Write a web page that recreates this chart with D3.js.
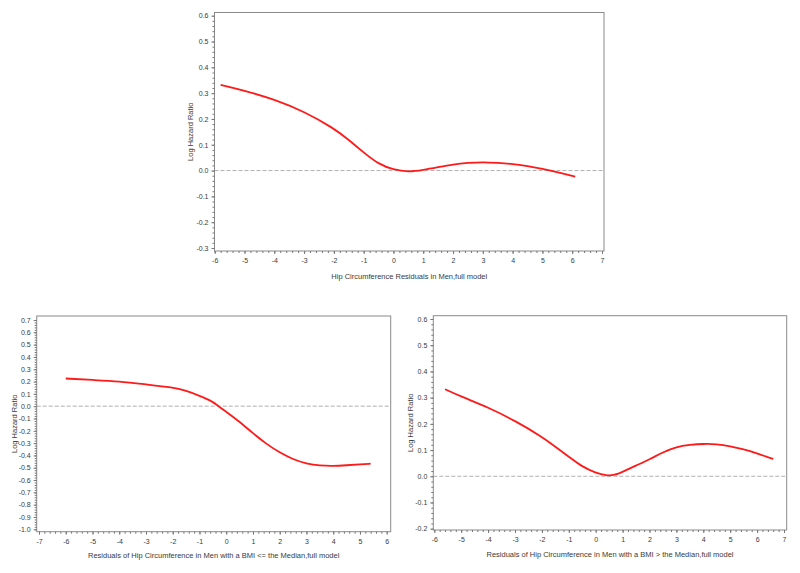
<!DOCTYPE html>
<html><head><meta charset="utf-8">
<script src="https://cdn.jsdelivr.net/npm/d3@7"></script>
<style>body{margin:0;background:#fff}svg{display:block}text{font-family:"Liberation Sans",Arial,sans-serif}</style>
</head><body>
<svg id="c" width="800" height="573"></svg>
<script>
// Panel 1: full model
const p1X = [-5.8,-5,-4,-3,-2,-1.5,-1,-0.5,0,0.5,1,1.5,2,2.5,3,3.5,4,4.5,5,5.5,6.1];
const p1Y = [0.332,0.31,0.276,0.229,0.164,0.119,0.07,0.025,0.003,-0.006,0.002,0.013,0.024,0.03,0.033,0.03,0.026,0.017,0.007,-0.006,-0.023];
// Panel 2: BMI <= median
const p2X = [-6,-5,-4,-3,-2,-1.5,-1,-0.5,-0.3,0,0.5,1,1.5,2,2.5,3,3.5,4,4.5,5,5.4];
const p2Y = [0.225,0.213,0.202,0.177,0.153,0.126,0.085,0.037,0.001,-0.045,-0.126,-0.22,-0.307,-0.377,-0.432,-0.467,-0.483,-0.486,-0.48,-0.473,-0.467];
// Panel 3: BMI > median
const p3X = [-5.6,-5,-4,-3,-2,-1.5,-1,-0.5,0,0.4,0.7,1,1.5,2,2.5,3,3.5,4,4.5,5,5.5,6,6.6];
const p3Y = [0.332,0.304,0.263,0.212,0.151,0.113,0.075,0.036,0.013,0.002,0.004,0.017,0.041,0.064,0.092,0.113,0.12,0.124,0.123,0.115,0.103,0.087,0.066];

const xTicks1 = d3.range(-6, 8, 1), yTicks1 = d3.range(-0.3, 0.61, 0.1);
const xTicks2 = d3.range(-7, 7, 1), yTicks2 = d3.range(-1.0, 0.71, 0.1);
const xTicks3 = d3.range(-6, 8, 1), yTicks3 = d3.range(-0.2, 0.61, 0.1);
const yLabel = "Log Hazard Ratio";
const xLabels = ["Hip Circumference Residuals in Men,full model",
  "Residuals of Hip Circumference in Men with a BMI <= the Median,full model",
  "Residuals of Hip Circumference in Men with a BMI > the Median,full model"];

const svg = d3.select("#c");
const fmtX = d => d3.format("d")(d).replace("\u2212","-");
const fmtY = d => d3.format(".1f")(d).replace("\u2212","-");
const TXT = "#3a3a3a";

const panels = [
  {xs:p1X, ys:p1Y, xd:[-6,7], xr:[214.7,602], yd:[-0.3,0.6], yr:[248,15.7], fr:[214.5,604,12.5,251], xt:xTicks1, yt:yTicks1, ylx:190, xly:279, lab:xLabels[0]},
  {xs:p2X, ys:p2Y, xd:[-7,6], xr:[39,386.7], yd:[-1.0,0.7], yr:[529.3,320], fr:[36.7,390.7,316,531.7], xt:xTicks2, yt:yTicks2, ylx:14, xly:558, lab:xLabels[1]},
  {xs:p3X, ys:p3Y, xd:[-6,7], xr:[434.3,784], yd:[-0.2,0.6], yr:[528.7,319], fr:[433.3,786.7,315.7,530], xt:xTicks3, yt:yTicks3, ylx:410, xly:557, lab:xLabels[2]}
];

panels.forEach(p => {
  const x = d3.scaleLinear().domain(p.xd).range(p.xr);
  const y = d3.scaleLinear().domain(p.yd).range(p.yr);
  const [L,R,T,B] = p.fr;
  const g = svg.append("g");
  g.append("rect").attr("x",L).attr("y",T).attr("width",R-L).attr("height",B-T)
    .attr("fill","none").attr("stroke","#8a8a8a").attr("stroke-width",1);
  g.append("line").attr("x1",L).attr("x2",R).attr("y1",y(0)).attr("y2",y(0))
    .attr("stroke","#b0b0b0").attr("stroke-dasharray","4,2").attr("stroke-width",1);
  const style = s => {s.select(".domain").remove(); s.selectAll("line").attr("stroke","#777");
      s.selectAll("text").attr("font-size",7).attr("fill",TXT).attr("font-family","Liberation Sans, Arial, sans-serif");};
  const xMinor = d3.range(p.xd[0], p.xd[1]+1e-9, 0.2);
  g.append("g").attr("transform",`translate(0,${B})`)
    .call(d3.axisBottom(x).tickValues(xMinor).tickSize(2).tickFormat("")).call(style);
  g.append("g").attr("transform",`translate(0,${B})`)
    .call(d3.axisBottom(x).tickValues(p.xt).tickSize(3).tickPadding(4).tickFormat(fmtX)).call(style);
  const yMinor = d3.range(Math.round(p.yd[0]*50), Math.round(p.yd[1]*50)+1).map(v=>v/50);
  g.append("g").attr("transform",`translate(${L},0)`)
    .call(d3.axisLeft(y).tickValues(yMinor).tickSize(2).tickFormat("")).call(style);
  g.append("g").attr("transform",`translate(${L},0)`)
    .call(d3.axisLeft(y).tickValues(p.yt).tickSize(3).tickPadding(3).tickFormat(fmtY)).call(style);
  const pts = p.xs.map((v,i)=>[v,p.ys[i]]);
  g.append("path").datum(pts)
    .attr("d", d3.line().x(d=>x(d[0])).y(d=>y(d[1])).curve(d3.curveBasis))
    .attr("fill","none").attr("stroke","#ff1a1a").attr("stroke-width",1.8);
  g.append("text").attr("x",(L+R)/2).attr("y",p.xly).attr("text-anchor","middle")
    .attr("font-size",7.5).attr("fill",TXT).text(p.lab);
  g.append("text").attr("transform",`translate(${p.ylx},${(T+B)/2}) rotate(-90)`)
    .attr("text-anchor","middle").attr("dy","0.35em").attr("font-size",7.5).attr("fill",TXT).text(yLabel);
});
</script>
</body></html>
